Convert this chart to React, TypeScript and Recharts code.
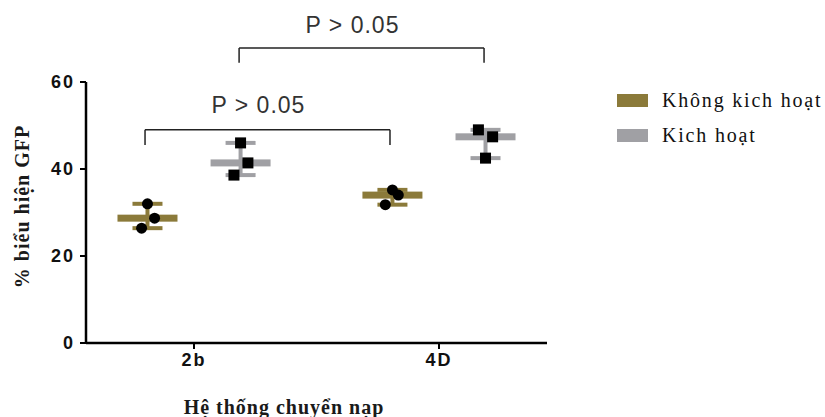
import React from 'react'
import { ScatterChart, Scatter, XAxis, YAxis, ErrorBar, ReferenceLine, ReferenceDot } from 'recharts'

// groups on the x axis and the two conditions
const groups = ['2b', '4D']
const conditions = ['Không kich hoạt', 'Kich hoạt']
const colors = ['#8b7a3a', '#a0a0a4']

// % GFP per replicate
const inactive2b = [32.0, 28.7, 26.4]
const active2b = [46.0, 41.4, 38.6]
const inactive4D = [35.2, 34.0, 31.8]
const active4D = [49.0, 47.4, 42.5]

// small horizontal jitter of the replicate dots, in x units
const jitterInactive2b = [0, 0.029, -0.024]
const jitterActive2b = [0, 0.03, -0.027]
const jitterInactive4D = [0, 0.024, -0.029]
const jitterActive4D = [-0.029, 0.029, 0]

const yTicks = [0, 20, 40, 60]
const pLabel = 'P > 0.05'

const groupX = [1, 2]
const condOffset = [-0.19, 0.19]

const median = (v: number[]) => [...v].sort((a, b) => a - b)[1]

const summary = (vals: number[], g: number, c: number) => {
  const m = median(vals)
  return {
    x: groupX[g] + condOffset[c],
    y: m,
    err: [m - Math.min(...vals), Math.max(...vals) - m],
  }
}

const points = (vals: number[], jit: number[], g: number, c: number) =>
  vals.map((v, i) => ({ x: groupX[g] + condOffset[c] + jit[i], y: v }))

const inactiveSummary = [summary(inactive2b, 0, 0), summary(inactive4D, 1, 0)]
const activeSummary = [summary(active2b, 0, 1), summary(active4D, 1, 1)]
const inactivePoints = [...points(inactive2b, jitterInactive2b, 0, 0), ...points(inactive4D, jitterInactive4D, 1, 0)]
const activePoints = [...points(active2b, jitterActive2b, 0, 1), ...points(active4D, jitterActive4D, 1, 1)]

const medianBar = (color: string) => (props: any) => (
  <rect x={props.cx - 30} y={props.cy - 3.5} width={60} height={7} fill={color} />
)
const dot = (props: any) => <circle cx={props.cx} cy={props.cy} r={5.5} fill="#000" />
const square = (props: any) => <rect x={props.cx - 5.5} y={props.cy - 5.5} width={11} height={11} fill="#000" />

const axisFont = { fontFamily: 'Liberation Sans, Arial, sans-serif', fontSize: 18, fontWeight: 'bold', fill: '#111', letterSpacing: 2 }
const titleFont = { fontFamily: 'Liberation Serif, Times New Roman, serif', fontSize: 20, fontWeight: 'bold', fill: '#1a1a1a', letterSpacing: 1 }
const pFont = { fontFamily: 'Liberation Sans, Arial, sans-serif', fontSize: 23, fill: '#333', letterSpacing: 1 }

export default function App() {
  return (
    <div style={{ position: 'absolute', left: 0, top: 0, width: 825, height: 417, background: '#fff' }}>
      <ScatterChart width={825} height={417} margin={{ top: 82, right: 278, left: 36, bottom: 34 }}>
        <XAxis
          type="number"
          dataKey="x"
          domain={[0.559, 2.441]}
          ticks={groupX}
          tickFormatter={(v: number) => groups[v - 1]}
          allowDataOverflow
          height={40}
          axisLine={{ stroke: '#000', strokeWidth: 2.5 }}
          tickLine={{ stroke: '#000', strokeWidth: 2 }}
          tickSize={6}
          tickMargin={4}
          tick={axisFont}
          label={{
            content: (p: any) => (
              <text x={p.viewBox.x + 198} y={p.viewBox.y + 64} textAnchor="middle" dominantBaseline="central" style={titleFont}>
                Hệ thống chuyển nạp
              </text>
            ),
          }}
        />
        <YAxis
          type="number"
          dataKey="y"
          domain={[0, 60]}
          ticks={yTicks}
          width={50}
          axisLine={{ stroke: '#000', strokeWidth: 2.5 }}
          tickLine={{ stroke: '#000', strokeWidth: 2 }}
          tickSize={6}
          tickMargin={5}
          tick={axisFont}
          label={{
            content: (p: any) => {
              const x = p.viewBox.x - 14
              const y = p.viewBox.y + p.viewBox.height / 2 - 6
              return (
                <text x={x} y={y} transform={`rotate(-90, ${x}, ${y})`} textAnchor="middle" dominantBaseline="central" style={titleFont}>
                  % biểu hiện GFP
                </text>
              )
            },
          }}
        />

        <Scatter data={inactiveSummary} shape={medianBar(colors[0])} isAnimationActive={false}>
          <ErrorBar dataKey="err" direction="y" width={15} stroke={colors[0]} strokeWidth={4} />
        </Scatter>
        <Scatter data={activeSummary} shape={medianBar(colors[1])} isAnimationActive={false}>
          <ErrorBar dataKey="err" direction="y" width={15} stroke={colors[1]} strokeWidth={4} />
        </Scatter>
        <Scatter data={inactivePoints} shape={dot} isAnimationActive={false} />
        <Scatter data={activePoints} shape={square} isAnimationActive={false} />

        {/* lower bracket: 2b vs 4D, không kích hoạt */}
        <ReferenceLine segment={[{ x: 0.8, y: 45.5 }, { x: 0.8, y: 49 }]} stroke="#222" strokeWidth={1.5} ifOverflow="visible" />
        <ReferenceLine segment={[{ x: 0.8, y: 49 }, { x: 1.8, y: 49 }]} stroke="#222" strokeWidth={1.5} ifOverflow="visible" />
        <ReferenceLine segment={[{ x: 1.8, y: 49 }, { x: 1.8, y: 45.5 }]} stroke="#222" strokeWidth={1.5} ifOverflow="visible" />
        <ReferenceDot x={1.263} y={54.7} r={0} fill="none" stroke="none" ifOverflow="visible"
          label={{ value: pLabel, position: 'center', style: pFont }} />

        {/* upper bracket: 2b vs 4D, kích hoạt */}
        <ReferenceLine segment={[{ x: 1.184, y: 64.4 }, { x: 1.184, y: 67.8 }]} stroke="#222" strokeWidth={1.5} ifOverflow="visible" />
        <ReferenceLine segment={[{ x: 1.184, y: 67.8 }, { x: 2.184, y: 67.8 }]} stroke="#222" strokeWidth={1.5} ifOverflow="visible" />
        <ReferenceLine segment={[{ x: 2.184, y: 67.8 }, { x: 2.184, y: 64.4 }]} stroke="#222" strokeWidth={1.5} ifOverflow="visible" />
        <ReferenceDot x={1.647} y={73.1} r={0} fill="none" stroke="none" ifOverflow="visible"
          label={{ value: pLabel, position: 'center', style: pFont }} />
      </ScatterChart>

      <div style={{ position: 'absolute', left: 617, top: 83, fontFamily: 'Liberation Serif, Times New Roman, serif', fontSize: 20, color: '#111', letterSpacing: 1.8 }}>
        {conditions.map((name, i) => (
          <div key={name} style={{ display: 'flex', alignItems: 'center', height: 35 }}>
            <span style={{ display: 'inline-block', width: 31, height: 13, background: colors[i], marginRight: 14 }} />
            <span>{name}</span>
          </div>
        ))}
      </div>
    </div>
  )
}
